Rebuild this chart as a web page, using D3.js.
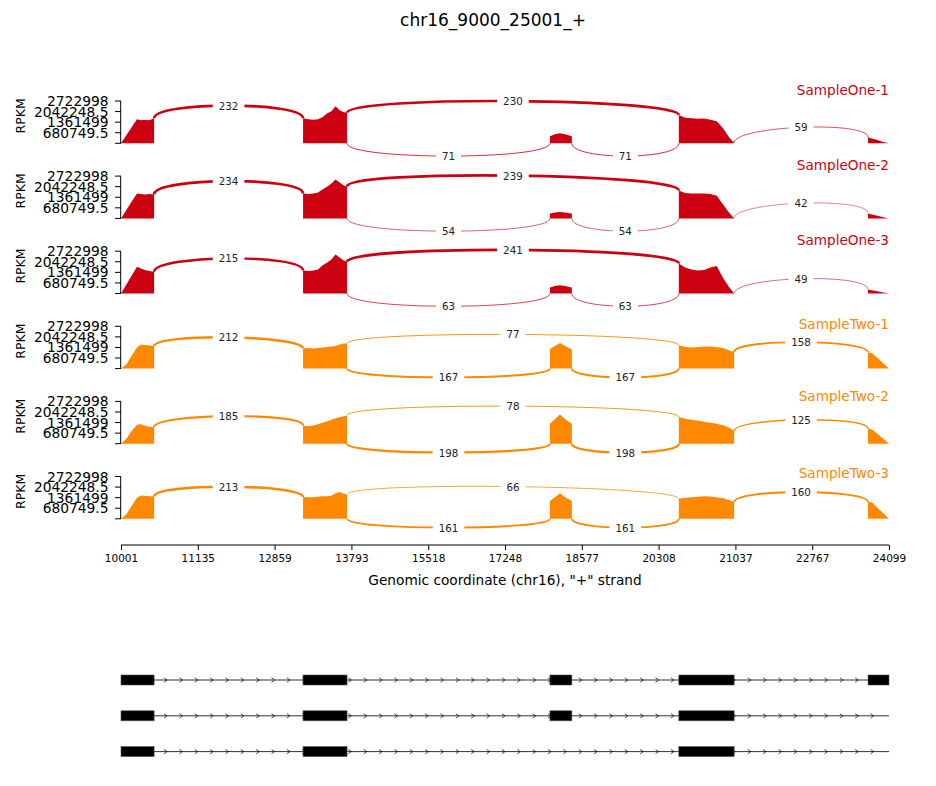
<!DOCTYPE html>
<html><head><meta charset="utf-8">
<script src="https://cdn.jsdelivr.net/npm/d3@7"></script>
<style>body{margin:0;background:#fff;} text{font-family:"DejaVu Sans",sans-serif;}</style>
</head><body><svg id="c" width="936" height="786"></svg>
<script>
// ---------- data ----------
const title = "chr16_9000_25001_+";
const xTickValues = [10001, 11135, 12859, 13793, 15518, 17248, 18577, 20308, 21037, 22767, 24099];
const yTickValues = [0, 680749.5, 1361499, 2042248.5, 2722998];
const yMax = 2722998;
const sampleNames = ["SampleOne-1", "SampleOne-2", "SampleOne-3", "SampleTwo-1", "SampleTwo-2", "SampleTwo-3"];
const sampleGroup = [0, 0, 0, 1, 1, 1];
const groupColors = ["#CC0011", "#FF8800"];
const exons = [[10001, 10490], [13205, 13740], [18025, 18405], [20500, 21025], [23735, 24099]];
const transcripts = [[0, 1, 2, 3, 4], [0, 1, 2, 3], [0, 1, 3]];
const covPos = [
  [10001, 10080, 10160, 10237, 10296, 10355, 10420, 10490],
  [13205, 13270, 13330, 13387, 13440, 13500, 13550, 13600, 13650, 13700, 13740],
  [18025, 18110, 18200, 18290, 18405],
  [20500, 20560, 20620, 20680, 20740, 20800, 20860, 20920, 20980, 21025],
  [23735, 23800, 23900, 24000, 24099]
];
// RPKM (thousands) at covPos, per exon
const covOne1 = [
  [0, 515, 1043, 1545, 1481, 1513, 1481, 1609],
  [1609, 1545, 1513, 1545, 1674, 1931, 2060, 2382, 2124, 1996, 1970],
  [451, 579, 644, 579, 451],
  [1822, 1642, 1609, 1577, 1596, 1513, 1416, 966, 354, 32],
  [386, 315, 206, 90, 0]
];
const covOne2 = [
  [0, 534, 1094, 1609, 1577, 1545, 1564, 1545],
  [1609, 1577, 1609, 1674, 1867, 2060, 2253, 2511, 2317, 2124, 2060],
  [322, 386, 418, 386, 322],
  [1802, 1642, 1609, 1609, 1596, 1577, 1461, 901, 341, 0],
  [322, 257, 174, 77, 0]
];
const covOne3 = [
  [0, 573, 1159, 1719, 1609, 1513, 1448, 1397],
  [1481, 1448, 1481, 1545, 1802, 1996, 2189, 2511, 2317, 2124, 2041],
  [386, 483, 534, 483, 386],
  [1931, 1674, 1545, 1481, 1513, 1674, 1770, 998, 386, 0],
  [257, 212, 142, 64, 0]
];
const covTwo1 = [
  [0, 257, 837, 1352, 1545, 1513, 1481, 1436],
  [1287, 1320, 1287, 1320, 1352, 1384, 1416, 1448, 1545, 1609, 1609],
  [1255, 1448, 1654, 1448, 1223],
  [1500, 1384, 1352, 1384, 1416, 1429, 1384, 1320, 1159, 1075],
  [1030, 998, 676, 341, 0]
];
const covTwo2 = [
  [0, 322, 837, 1223, 1255, 1159, 1094, 1075],
  [1178, 1127, 1178, 1255, 1352, 1448, 1545, 1642, 1706, 1770, 1822],
  [1287, 1577, 1886, 1577, 1287],
  [1719, 1609, 1545, 1481, 1416, 1352, 1287, 1191, 1030, 818],
  [966, 933, 644, 322, 0]
];
const covTwo3 = [
  [0, 290, 837, 1352, 1500, 1481, 1448, 1436],
  [1397, 1384, 1384, 1416, 1448, 1448, 1481, 1642, 1719, 1609, 1564],
  [1139, 1384, 1648, 1384, 1139],
  [1287, 1352, 1384, 1416, 1448, 1436, 1384, 1320, 1191, 1075],
  [1075, 1062, 708, 354, 0]
];
const coverage = [covOne1, covOne2, covOne3, covTwo1, covTwo2, covTwo3];
const jxnLeftExon = [0, 1, 1, 2, 3];
const jxnRightExon = [1, 3, 2, 3, 4];
const jxnCounts = [
  [232, 230, 71, 71, 59],
  [234, 239, 54, 54, 42],
  [215, 241, 63, 63, 49],
  [212, 77, 167, 167, 158],
  [185, 78, 198, 198, 125],
  [213, 66, 161, 161, 160]
];

// ---------- layout ----------
const X0 = 121, X1 = 889;
const panelBase0 = 143.3, panelStep = 75.1, panelH = 42.3;
const arcUp = [17, 17, 17, 13.4, 13.4, 13.4];
const arcDown = [17, 17, 17, 11.8, 11.8, 11.8];
const labelRise = [53.3, 53.4, 53.5, 44.6, 47.7, 45.8];
const xAxisY = 545;
const geneRowY0 = 680, geneRowStep = 35.8, exonH = 10;

const svg = d3.select("#c");
const x = d3.scaleLinear()
  .domain(xTickValues)
  .range(xTickValues.map((d, i) => X0 + i * (X1 - X0) / (xTickValues.length - 1)));
const allMax = d3.max(jxnCounts.flat());

svg.append("text").attr("x", 493).attr("y", 20).attr("text-anchor", "middle")
  .attr("dominant-baseline", "central").style("font-size", "17px").attr("fill", "#000").text(title);

sampleNames.forEach((name, si) => {
  const base = panelBase0 + si * panelStep;
  const y = d3.scaleLinear().domain([0, yMax]).range([base, base - panelH]);
  const color = groupColors[sampleGroup[si]];
  const g = svg.append("g");
  const cov = coverage[si];

  // coverage areas
  const area = d3.area().x(d => x(d[0])).y0(base).y1(d => y(d[1] * 1000));
  exons.forEach((ex, e) => {
    const pts = covPos[e].map((p, k) => [p, cov[e][k]]);
    g.append("path").attr("d", area(pts)).attr("fill", color);
  });

  // junction arcs
  jxnLeftExon.forEach((L, j) => {
    const R = jxnRightExon[j];
    const c = jxnCounts[si][j];
    const leftSS = exons[L][1], rightSS = exons[R][0];
    let niso = 0;
    transcripts.forEach(t => { if (t.includes(L) && t.includes(R)) niso++; });
    const ss1 = x(leftSS), ss2 = x(rightSS);
    let P;
    if (niso % 2 === 0) {
      const h = arcDown[si];
      P = [[ss1, base], [ss1, base + h], [ss2, base + h], [ss2, base]];
    } else {
      const h = arcUp[si];
      const ld = y(cov[L][cov[L].length - 1] * 1000), rd = y(cov[R][0] * 1000);
      P = [[ss1, ld], [ss1, ld - h], [ss2, rd - h], [ss2, rd]];
    }
    const p = d3.path();
    p.moveTo(P[0][0], P[0][1]);
    p.bezierCurveTo(P[1][0], P[1][1], P[2][0], P[2][1], P[3][0], P[3][1]);
    g.append("path").attr("d", p.toString()).attr("fill", "none")
      .attr("stroke", color).attr("stroke-width", 2.8 * c / allMax);
    const mx = 0.125 * P[0][0] + 0.375 * P[1][0] + 0.375 * P[2][0] + 0.125 * P[3][0];
    const my = 0.125 * P[0][1] + 0.375 * P[1][1] + 0.375 * P[2][1] + 0.125 * P[3][1];
    const rect = g.append("rect").attr("fill", "#fff");
    const t = g.append("text").attr("x", mx).attr("y", my).attr("text-anchor", "middle")
      .attr("dominant-baseline", "central").style("font-size", "10.3px").attr("fill", "#222").text(c);
    const bb = t.node().getBBox();
    rect.attr("x", bb.x - 6).attr("y", bb.y - 2).attr("width", bb.width + 12).attr("height", bb.height + 4);
  });

  // y axis
  g.append("line").attr("x1", X0 - 0.3).attr("x2", X0 - 0.3).attr("y1", y(0)).attr("y2", y(yMax))
    .attr("stroke", "#000").attr("stroke-width", 1);
  yTickValues.forEach(v => {
    g.append("line").attr("x1", X0 - 6).attr("x2", X0).attr("y1", y(v)).attr("y2", y(v))
      .attr("stroke", "#000").attr("stroke-width", 1);
    if (v > 0) {
      g.append("text").attr("x", X0 - 12.5).attr("y", y(v)).attr("text-anchor", "end")
        .attr("dominant-baseline", "central").style("font-size", "13.8px").attr("fill", "#000")
        .text(d3.format("")(v));
    }
  });
  g.append("text").attr("transform", `translate(20,${base - 27.5}) rotate(-90)`)
    .attr("text-anchor", "middle").attr("dominant-baseline", "central")
    .style("font-size", "12.5px").attr("fill", "#000").text("RPKM");

  // sample label
  g.append("text").attr("x", X1).attr("y", base - labelRise[si]).attr("text-anchor", "end")
    .attr("dominant-baseline", "central").style("font-size", "13.6px").attr("fill", color).text(name);
});

// x axis
const xAxis = d3.axisBottom(x).tickValues(xTickValues).tickFormat(d3.format("d")).tickSize(5).tickPadding(5);
const ax = svg.append("g").attr("transform", `translate(0,${xAxisY})`).call(xAxis);
ax.select(".domain").attr("stroke", "#000").attr("stroke-width", 1.2).attr("d", `M${X0},0H${X1}`);
ax.selectAll(".tick line").attr("stroke", "#000");
ax.selectAll(".tick text").style("font-size", "10.5px").style("font-family", "DejaVu Sans").attr("fill", "#000");
svg.append("text").attr("x", (X0 + X1) / 2).attr("y", 580).attr("text-anchor", "middle")
  .attr("dominant-baseline", "central").style("font-size", "13.7px").attr("fill", "#000")
  .text('Genomic coordinate (chr16), "+" strand');

// gene model
const narrows = 50;
const spacing = (X1 - X0) / narrows;
transcripts.forEach((tr, ti) => {
  const cy = geneRowY0 + ti * geneRowStep;
  const g = svg.append("g");
  g.append("line").attr("x1", X0).attr("x2", X1).attr("y1", cy).attr("y2", cy)
    .attr("stroke", "#333").attr("stroke-width", 1);
  for (let i = 1; i < narrows; i++) {
    const loc = X0 + i * spacing;
    g.append("path").attr("d", `M${loc - 0.2 * spacing},${cy - 2.2}L${loc},${cy}L${loc - 0.2 * spacing},${cy + 2.2}`)
      .attr("fill", "none").attr("stroke", "#000").attr("stroke-width", 0.7);
  }
  tr.forEach(e => {
    g.append("rect").attr("x", x(exons[e][0])).attr("y", cy - exonH / 2)
      .attr("width", x(exons[e][1]) - x(exons[e][0])).attr("height", exonH)
      .attr("fill", "#000").attr("stroke", "#555").attr("stroke-width", 0.6);
  });
});
</script></body></html>
